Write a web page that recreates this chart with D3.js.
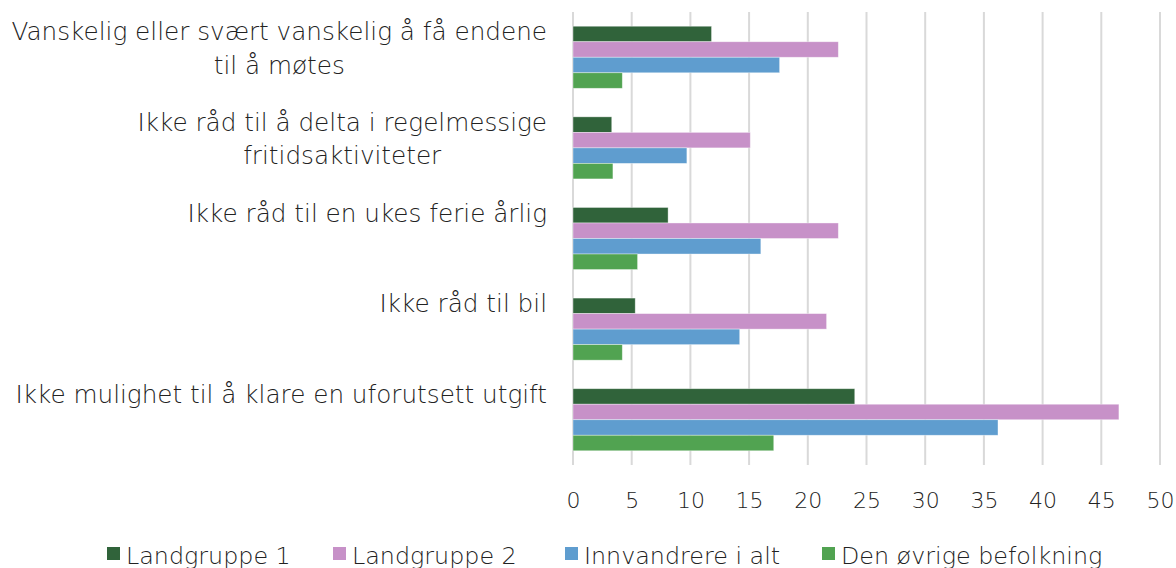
<!DOCTYPE html>
<html>
<head>
<meta charset="utf-8">
<script src="https://cdn.jsdelivr.net/npm/d3@7"></script>
<style>
  body { margin: 0; background: #fff; }
  text { font-family: "DejaVu Sans", sans-serif; font-weight: 200; fill: #222; }
</style>
</head>
<body>
<svg width="1176" height="568"></svg>
<script>
var categories = [
  ["Vanskelig eller svært vanskelig å få endene", "til å møtes"],
  ["Ikke råd til å delta i regelmessige", "fritidsaktiviteter"],
  ["Ikke råd til en ukes ferie årlig"],
  ["Ikke råd til bil"],
  ["Ikke mulighet til å klare en uforutsett utgift"]
]
var seriesNames = ["Landgruppe 1", "Landgruppe 2", "Innvandrere i alt", "Den øvrige befolkning"]
var landgruppe1 = [11.8, 3.3, 8.1, 5.3, 24.0]
var landgruppe2 = [22.6, 15.1, 22.6, 21.6, 46.5]
var innvandrere = [17.6, 9.7, 16.0, 14.2, 36.2]
var ovrige = [4.2, 3.4, 5.5, 4.2, 17.1]
var xTicks = [0, 5, 10, 15, 20, 25, 30, 35, 40, 45, 50]
var colors = ["#30633a", "#c791c8", "#5f9dcf", "#51a351"]

var svg = d3.select("svg"),
  width = +svg.attr("width"),
  height = +svg.attr("height");

var margin = {top: 12, bottom: 103, left: 573, right: 16}

var seriesValues = [landgruppe1, landgruppe2, innvandrere, ovrige]
var rows = categories.map((c, i) => ({
  idx: i,
  values: seriesValues.map((s, j) => ({key: j, value: s[i]}))
}))

var x = d3.scaleLinear()
  .domain([0, 50])
  .range([margin.left, width - margin.right])

var y0 = d3.scaleBand()
  .domain(d3.range(categories.length))
  .range([margin.top, height - margin.bottom])
  .paddingInner(0.315)
  .paddingOuter(0.157)

var y1 = d3.scaleBand()
  .domain(d3.range(seriesNames.length))
  .range([0, y0.bandwidth()])

// gridlines
svg.append("g")
  .selectAll("line")
  .data(xTicks)
  .enter()
  .append("line")
  .attr("x1", d => x(d))
  .attr("x2", d => x(d))
  .attr("y1", margin.top)
  .attr("y2", height - margin.bottom)
  .attr("stroke", "#d9d9d9")
  .attr("stroke-width", 2)

// bars
var groups = svg.append("g")
  .selectAll("g")
  .data(rows)
  .enter()
  .append("g")
  .attr("transform", d => "translate(0," + y0(d.idx) + ")")

groups.selectAll("rect")
  .data(d => d.values)
  .enter()
  .append("rect")
  .attr("x", x(0))
  .attr("y", d => y1(d.key))
  .attr("width", d => x(d.value) - x(0))
  .attr("height", y1.bandwidth())
  .attr("fill", d => colors[d.key])
  .attr("stroke", "#fff")
  .attr("stroke-opacity", 0.5)
  .attr("stroke-width", 0.75)

// x axis labels
var xAxis = d3.axisBottom(x)
  .tickValues(xTicks)
  .tickSize(0)
  .tickPadding(0)

var axisG = svg.append("g")
  .attr("transform", "translate(0," + (height - margin.bottom + 43) + ")")
  .call(xAxis)
axisG.select(".domain").remove()
axisG.selectAll("text")
  .attr("dy", 0)
  .style("font-size", "22px")
  .style("font-family", "'DejaVu Sans', sans-serif")
  .style("font-weight", 200)
  .attr("fill", "#222")

// category labels
var labels = svg.append("g")
  .selectAll("text")
  .data(categories)
  .enter()
  .append("text")
  .attr("text-anchor", "end")
  .attr("x", 547)
  .attr("y", (d, i) => y0(i) + y0.bandwidth() / 2 - 17)
  .style("font-size", "24.7px")

labels.selectAll("tspan")
  .data(d => d)
  .enter()
  .append("tspan")
  .attr("x", 547)
  .attr("dy", (d, i) => i == 0 ? 0 : 33.5)
  .text(d => d)

// second line of two-line labels is centred under the first
labels.each(function(d) {
  if (d.length > 1) {
    var t = d3.select(this)
    var first = t.select("tspan").node().getComputedTextLength()
    t.selectAll("tspan").filter((s, i) => i == 1)
      .attr("text-anchor", "middle")
      .attr("x", 547 - first / 2)
  }
})

// legend
var legendX = [107, 333, 565, 822]
var legend = svg.append("g")
  .selectAll("g")
  .data(seriesNames)
  .enter()
  .append("g")
  .attr("transform", (d, i) => "translate(" + legendX[i] + ",547)")

legend.append("rect")
  .attr("width", 13)
  .attr("height", 13)
  .attr("fill", (d, i) => colors[i])

legend.append("text")
  .attr("x", 19)
  .attr("y", 17)
  .style("font-size", "23.8px")
  .text(d => d)
</script>
</body>
</html>
